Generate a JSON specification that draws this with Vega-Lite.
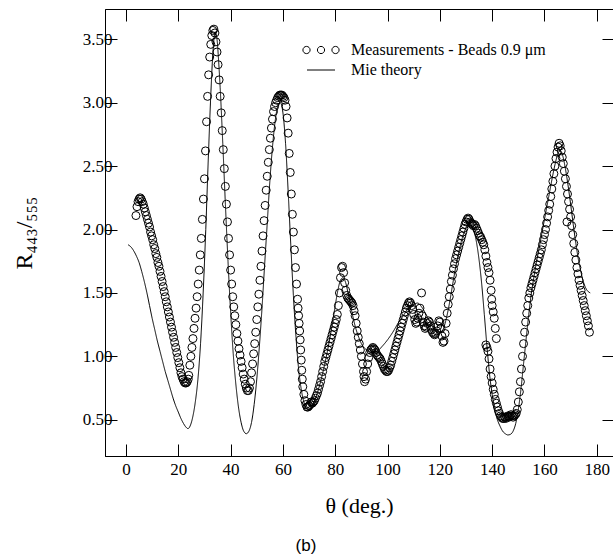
{
  "$schema": "https://vega.github.io/schema/vega-lite/v6.json",
  "autosize": {"type": "none"},
  "padding": {"left": 105, "top": 9, "right": 0, "bottom": 102},
  "width": 508,
  "height": 447,
  "background": "white",
  "title": {"text": "(b)", "orient": "bottom", "font": "Liberation Sans", "fontSize": 17, "fontWeight": "normal", "anchor": "middle", "dx": -53, "offset": 22, "color": "black"},
  "config": {
    "view": {"stroke": "black", "strokeWidth": 1},
    "font": "Liberation Serif",
    "axis": {"grid": false, "domainColor": "black", "tickColor": "black", "labelColor": "black", "titleColor": "black", "labelFont": "Liberation Serif", "titleFont": "Liberation Serif", "titleFontWeight": "normal", "labelFontSize": 17, "tickWidth": 1, "domainWidth": 1},
    "legend": {"orient": "none", "title": null, "symbolSize": 100, "labelFont": "Liberation Serif", "labelFontSize": 16, "labelOffset": 22, "labelLimit": 400, "padding": 0, "symbolStrokeWidth": 1, "symbolStrokeColor": "black", "symbolFillColor": "transparent", "symbolOpacity": 1, "labelColor": "black"}
  },
  "datasets": {
    "meas": [
      {"t":3.8,"r":2.11},{"t":4.2,"r":2.18},{"t":4.6,"r":2.22},{"t":5.0,"r":2.24},{"t":5.4,"r":2.25},{"t":5.8,"r":2.24},{"t":6.2,"r":2.22},{"t":6.6,"r":2.20},{"t":7.0,"r":2.17},{"t":7.4,"r":2.14},{"t":7.8,"r":2.11},{"t":8.2,"r":2.08},{"t":8.6,"r":2.05},{"t":9.0,"r":2.02},{"t":9.4,"r":1.98},{"t":9.8,"r":1.95},{"t":10.2,"r":1.92},{"t":10.6,"r":1.88},{"t":11.0,"r":1.85},{"t":11.4,"r":1.81},{"t":11.8,"r":1.78},{"t":12.2,"r":1.74},{"t":12.6,"r":1.71},{"t":13.0,"r":1.67},{"t":13.4,"r":1.63},{"t":13.8,"r":1.59},{"t":14.2,"r":1.55},{"t":14.6,"r":1.51},{"t":15.0,"r":1.47},{"t":15.4,"r":1.43},{"t":15.8,"r":1.39},{"t":16.2,"r":1.35},{"t":16.6,"r":1.31},{"t":17.0,"r":1.27},{"t":17.4,"r":1.23},{"t":17.8,"r":1.19},{"t":18.2,"r":1.15},{"t":18.6,"r":1.11},{"t":19.0,"r":1.07},{"t":19.4,"r":1.03},{"t":19.8,"r":0.99},{"t":20.2,"r":0.95},{"t":20.6,"r":0.91},{"t":21.0,"r":0.87},{"t":21.4,"r":0.84},{"t":21.8,"r":0.82},{"t":22.2,"r":0.80},{"t":22.6,"r":0.79},{"t":23.0,"r":0.79},{"t":23.4,"r":0.80},{"t":23.8,"r":0.82},
      {"t":24.0,"r":0.85},{"t":24.4,"r":0.93},{"t":24.8,"r":1.00},{"t":25.2,"r":1.07},{"t":25.6,"r":1.14},{"t":26.0,"r":1.22},{"t":26.4,"r":1.30},{"t":26.8,"r":1.38},{"t":27.2,"r":1.47},{"t":27.6,"r":1.57},{"t":28.0,"r":1.68},{"t":28.4,"r":1.80},{"t":28.8,"r":1.93},{"t":29.2,"r":2.08},{"t":29.6,"r":2.24},{"t":30.0,"r":2.40},{"t":30.4,"r":2.62},{"t":30.8,"r":2.85},{"t":31.2,"r":3.05},{"t":31.6,"r":3.22},{"t":32.0,"r":3.36},{"t":32.4,"r":3.46},{"t":32.8,"r":3.53},{"t":33.2,"r":3.57},{"t":33.6,"r":3.58},{"t":34.0,"r":3.55},
      {"t":34.4,"r":3.48},{"t":34.8,"r":3.40},{"t":35.2,"r":3.30},{"t":35.6,"r":3.18},{"t":36.0,"r":3.05},{"t":36.4,"r":2.92},{"t":36.8,"r":2.78},{"t":37.2,"r":2.63},{"t":37.6,"r":2.48},{"t":38.0,"r":2.34},{"t":38.4,"r":2.20},{"t":38.8,"r":2.06},{"t":39.2,"r":1.93},{"t":39.6,"r":1.80},{"t":40.0,"r":1.68},{"t":40.4,"r":1.57},{"t":40.8,"r":1.47},{"t":41.2,"r":1.39},{"t":41.6,"r":1.32},{"t":42.0,"r":1.25},{"t":42.4,"r":1.18},{"t":42.8,"r":1.12},{"t":43.2,"r":1.06},{"t":43.6,"r":1.01},{"t":44.0,"r":0.96},{"t":44.4,"r":0.91},{"t":44.8,"r":0.86},{"t":45.2,"r":0.82},{"t":45.6,"r":0.78},{"t":46.0,"r":0.75},{"t":46.4,"r":0.73},{"t":46.8,"r":0.73},{"t":47.2,"r":0.75},
      {"t":47.6,"r":0.80},{"t":48.0,"r":0.87},{"t":48.4,"r":0.94},{"t":48.8,"r":1.02},{"t":49.2,"r":1.10},{"t":49.6,"r":1.19},{"t":50.0,"r":1.29},{"t":50.4,"r":1.39},{"t":50.8,"r":1.49},{"t":51.2,"r":1.60},{"t":51.6,"r":1.71},{"t":52.0,"r":1.83},{"t":52.4,"r":1.95},{"t":52.8,"r":2.07},{"t":53.2,"r":2.19},{"t":53.6,"r":2.31},{"t":54.0,"r":2.42},{"t":54.4,"r":2.53},{"t":54.8,"r":2.63},{"t":55.2,"r":2.72},{"t":55.6,"r":2.80},{"t":56.0,"r":2.87},{"t":56.4,"r":2.93},{"t":56.8,"r":2.97},{"t":57.2,"r":3.00},{"t":57.6,"r":3.02},{"t":58.0,"r":3.04},{"t":58.4,"r":3.05},{"t":58.8,"r":3.06},{"t":59.2,"r":3.06},{"t":59.6,"r":3.06},{"t":60.0,"r":3.05},{"t":60.4,"r":3.04},
      {"t":60.8,"r":3.02},{"t":61.2,"r":2.97},{"t":61.6,"r":2.88},{"t":62.0,"r":2.76},{"t":62.4,"r":2.60},{"t":62.8,"r":2.45},{"t":63.2,"r":2.28},{"t":63.6,"r":2.12},{"t":64.0,"r":1.98},{"t":64.4,"r":1.84},{"t":64.8,"r":1.70},{"t":65.2,"r":1.57},{"t":65.6,"r":1.45},{"t":65.8,"r":1.38},{"t":66.0,"r":1.32},{"t":66.2,"r":1.26},{"t":66.4,"r":1.20},{"t":66.6,"r":1.13},{"t":66.8,"r":1.05},{"t":67.0,"r":0.97},{"t":67.2,"r":0.89},{"t":67.4,"r":0.82},{"t":67.6,"r":0.76},{"t":68.0,"r":0.70},{"t":68.4,"r":0.65},{"t":68.8,"r":0.62},{"t":69.2,"r":0.60},{"t":69.6,"r":0.60},{"t":70.0,"r":0.61},{"t":70.4,"r":0.62},{"t":70.8,"r":0.64},
      {"t":71.2,"r":0.63},{"t":71.6,"r":0.64},{"t":72.0,"r":0.65},{"t":72.4,"r":0.67},{"t":72.8,"r":0.69},{"t":73.2,"r":0.71},{"t":73.6,"r":0.74},{"t":74.0,"r":0.77},{"t":74.4,"r":0.80},{"t":74.8,"r":0.84},{"t":75.2,"r":0.88},{"t":75.6,"r":0.92},{"t":76.0,"r":0.96},{"t":76.4,"r":0.99},{"t":76.8,"r":1.02},{"t":77.2,"r":1.05},{"t":77.6,"r":1.08},{"t":78.0,"r":1.11},{"t":78.4,"r":1.14},{"t":78.8,"r":1.17},{"t":79.2,"r":1.20},{"t":79.6,"r":1.23},{"t":80.0,"r":1.26},{"t":80.4,"r":1.29},{"t":80.8,"r":1.33},{"t":81.2,"r":1.40},{"t":81.6,"r":1.50},{"t":82.0,"r":1.62},{"t":82.4,"r":1.70},{"t":82.8,"r":1.71},{"t":83.2,"r":1.66},
      {"t":83.6,"r":1.58},{"t":84.0,"r":1.52},{"t":84.4,"r":1.48},{"t":84.8,"r":1.46},{"t":85.2,"r":1.45},{"t":85.6,"r":1.44},{"t":86.0,"r":1.43},{"t":86.4,"r":1.42},{"t":86.8,"r":1.40},{"t":87.2,"r":1.36},{"t":87.6,"r":1.32},{"t":88.0,"r":1.26},{"t":88.4,"r":1.20},{"t":88.8,"r":1.15},{"t":89.2,"r":1.10},{"t":89.6,"r":1.05},{"t":90.0,"r":1.00},{"t":90.4,"r":0.94},{"t":90.8,"r":0.88},{"t":91.0,"r":0.84},{"t":91.2,"r":0.80},{"t":91.6,"r":0.82},{"t":92.0,"r":0.88},{"t":92.4,"r":0.94},{"t":92.8,"r":0.99},{"t":93.2,"r":1.03},{"t":93.6,"r":1.05},{"t":94.0,"r":1.06},{"t":94.4,"r":1.07},{"t":94.8,"r":1.06},{"t":95.2,"r":1.05},{"t":95.6,"r":1.03},{"t":96.0,"r":1.01},{"t":96.4,"r":1.00},{"t":96.8,"r":0.99},{"t":97.2,"r":0.98},{"t":97.6,"r":0.96},{"t":98.0,"r":0.94},{"t":98.4,"r":0.92},{"t":98.8,"r":0.90},{"t":99.2,"r":0.89},{"t":99.6,"r":0.88},{"t":100.0,"r":0.88},{"t":100.4,"r":0.89},{"t":100.8,"r":0.91},{"t":101.2,"r":0.93},{"t":101.6,"r":0.96},{"t":102.0,"r":0.99},{"t":102.4,"r":1.02},{"t":102.8,"r":1.05},{"t":103.2,"r":1.08},{"t":103.6,"r":1.11},{"t":104.0,"r":1.14},{"t":104.4,"r":1.17},{"t":104.8,"r":1.20},{"t":105.2,"r":1.23},{"t":105.6,"r":1.26},{"t":106.0,"r":1.29},{"t":106.4,"r":1.32},{"t":106.8,"r":1.35},{"t":107.2,"r":1.38},{"t":107.6,"r":1.40},{"t":108.0,"r":1.42},{"t":108.4,"r":1.43},{"t":108.8,"r":1.42},
      {"t":109.2,"r":1.40},{"t":109.6,"r":1.37},{"t":110.0,"r":1.33},{"t":110.4,"r":1.29},{"t":110.8,"r":1.26},{"t":111.2,"r":1.27},{"t":111.6,"r":1.30},{"t":112.0,"r":1.34},{"t":112.4,"r":1.38},{"t":113.0,"r":1.50},{"t":113.2,"r":1.32},{"t":113.6,"r":1.27},{"t":114.0,"r":1.24},{"t":114.4,"r":1.22},{"t":114.8,"r":1.23},{"t":115.2,"r":1.26},{"t":115.6,"r":1.28},{"t":116.0,"r":1.27},{"t":116.4,"r":1.24},{"t":116.8,"r":1.21},{"t":117.2,"r":1.19},{"t":117.6,"r":1.18},{"t":118.0,"r":1.17},{"t":118.4,"r":1.18},{"t":118.8,"r":1.20},{"t":119.2,"r":1.24},{"t":119.6,"r":1.28},{"t":120.0,"r":1.27},{"t":120.4,"r":1.22},{"t":120.8,"r":1.16},{"t":121.2,"r":1.11},{"t":121.6,"r":1.12},{"t":122.0,"r":1.18},{"t":122.4,"r":1.26},{"t":122.8,"r":1.34},{"t":123.2,"r":1.41},{"t":123.6,"r":1.47},{"t":124.0,"r":1.53},{"t":124.4,"r":1.59},{"t":124.8,"r":1.64},{"t":125.2,"r":1.69},{"t":125.6,"r":1.73},{"t":126.0,"r":1.77},{"t":126.4,"r":1.80},{"t":126.8,"r":1.83},{"t":127.2,"r":1.86},{"t":127.6,"r":1.89},{"t":128.0,"r":1.92},{"t":128.4,"r":1.95},{"t":128.8,"r":1.98},{"t":129.2,"r":2.01},{"t":129.6,"r":2.04},{"t":130.0,"r":2.06},{"t":130.4,"r":2.08},{"t":130.8,"r":2.09},{"t":131.2,"r":2.08},{"t":131.6,"r":2.06},{"t":132.0,"r":2.05},{"t":132.4,"r":2.04},{"t":132.8,"r":2.03},{"t":133.2,"r":2.04},{"t":133.6,"r":2.03},{"t":134.0,"r":2.01},{"t":134.4,"r":1.99},{"t":134.8,"r":1.97},{"t":135.2,"r":1.95},{"t":135.6,"r":1.94},{"t":136.0,"r":1.92},{"t":136.4,"r":1.90},{"t":136.8,"r":1.88},{"t":137.2,"r":1.84},{"t":137.6,"r":1.79},{"t":138.0,"r":1.74},{"t":138.4,"r":1.70},{"t":138.8,"r":1.66},{"t":139.2,"r":1.60},{"t":139.6,"r":1.52},{"t":139.8,"r":1.45},{"t":140.0,"r":1.40},{"t":140.4,"r":1.35},{"t":140.8,"r":1.30},{"t":141.2,"r":1.22},{"t":141.6,"r":1.14},
      {"t":137.6,"r":1.09},{"t":138.0,"r":1.07},{"t":138.4,"r":1.04},{"t":138.8,"r":0.98},{"t":139.2,"r":0.90},{"t":139.6,"r":0.84},{"t":140.0,"r":0.79},{"t":140.4,"r":0.74},{"t":140.8,"r":0.70},{"t":141.2,"r":0.66},{"t":141.6,"r":0.63},{"t":142.0,"r":0.60},{"t":142.4,"r":0.57},{"t":142.8,"r":0.55},{"t":143.2,"r":0.53},{"t":143.6,"r":0.52},{"t":144.0,"r":0.51},{"t":144.4,"r":0.51},{"t":144.8,"r":0.52},{"t":145.2,"r":0.51},{"t":145.6,"r":0.52},{"t":146.0,"r":0.53},{"t":146.4,"r":0.52},{"t":146.8,"r":0.53},{"t":147.2,"r":0.54},{"t":147.6,"r":0.53},{"t":148.0,"r":0.52},{"t":148.4,"r":0.53},{"t":148.8,"r":0.54},{"t":149.2,"r":0.55},{"t":149.6,"r":0.58},{"t":150.0,"r":0.64},{"t":150.4,"r":0.72},{"t":150.8,"r":0.80},{"t":151.2,"r":0.90},{"t":151.6,"r":1.00},{"t":152.0,"r":1.10},{"t":152.4,"r":1.19},{"t":152.8,"r":1.27},{"t":153.2,"r":1.34},{"t":153.6,"r":1.40},{"t":154.0,"r":1.46},{"t":154.4,"r":1.50},{"t":154.8,"r":1.54},{"t":155.2,"r":1.57},{"t":155.6,"r":1.60},{"t":156.0,"r":1.63},{"t":156.4,"r":1.66},{"t":156.8,"r":1.69},{"t":157.2,"r":1.72},{"t":157.6,"r":1.75},{"t":158.0,"r":1.78},{"t":158.4,"r":1.81},{"t":158.8,"r":1.84},{"t":159.2,"r":1.88},{"t":159.6,"r":1.92},{"t":160.0,"r":1.96},{"t":160.4,"r":2.00},{"t":160.8,"r":2.05},{"t":161.2,"r":2.10},{"t":161.6,"r":2.15},{"t":162.0,"r":2.20},{"t":162.4,"r":2.26},{"t":162.8,"r":2.32},{"t":163.2,"r":2.38},{"t":163.6,"r":2.44},{"t":164.0,"r":2.50},{"t":164.4,"r":2.56},{"t":164.8,"r":2.61},{"t":165.2,"r":2.65},{"t":165.6,"r":2.68},{"t":166.0,"r":2.66},{"t":166.4,"r":2.62},{"t":166.8,"r":2.57},{"t":167.2,"r":2.52},{"t":167.6,"r":2.46},{"t":168.0,"r":2.40},{"t":168.4,"r":2.34},{"t":168.6,"r":2.06},{"t":168.8,"r":2.28},{"t":169.2,"r":2.22},{"t":169.6,"r":2.16},{"t":170.0,"r":2.10},{"t":170.4,"r":2.03},{"t":170.8,"r":1.96},{"t":171.2,"r":1.89},{"t":171.6,"r":1.82},{"t":172.0,"r":1.76},{"t":172.4,"r":1.70},{"t":172.8,"r":1.65},{"t":173.2,"r":1.60},{"t":173.6,"r":1.56},{"t":174.0,"r":1.52},{"t":174.4,"r":1.48},{"t":174.8,"r":1.44},{"t":175.2,"r":1.40},{"t":175.6,"r":1.36},{"t":176.0,"r":1.32},{"t":176.4,"r":1.28},{"t":176.8,"r":1.24},{"t":177.2,"r":1.19}
    ],
    "mie": [
      {"t":0.8,"r":1.88},{"t":2,"r":1.86},{"t":3,"r":1.83},{"t":4,"r":1.79},{"t":5,"r":1.74},{"t":6,"r":1.67},{"t":7,"r":1.59},{"t":8,"r":1.50},{"t":9,"r":1.40},{"t":10,"r":1.30},{"t":11,"r":1.21},{"t":12,"r":1.12},{"t":13,"r":1.04},{"t":14,"r":0.96},{"t":15,"r":0.88},{"t":16,"r":0.81},{"t":17,"r":0.74},{"t":18,"r":0.67},{"t":19,"r":0.61},{"t":20,"r":0.56},{"t":21,"r":0.51},{"t":22,"r":0.47},{"t":23,"r":0.44},{"t":23.7,"r":0.43},{"t":24.5,"r":0.45},{"t":25.5,"r":0.52},{"t":26.5,"r":0.64},{"t":27.5,"r":0.82},{"t":28.5,"r":1.10},{"t":29.5,"r":1.50},{"t":30.5,"r":2.00},{"t":31.5,"r":2.58},{"t":32.5,"r":3.10},{"t":33.3,"r":3.42},{"t":34.1,"r":3.56},{"t":34.8,"r":3.50},{"t":35.5,"r":3.30},{"t":36,"r":3.12},{"t":37,"r":2.68},{"t":38,"r":2.20},{"t":39,"r":1.75},{"t":40,"r":1.35},{"t":41,"r":1.02},{"t":42,"r":0.78},{"t":43,"r":0.60},{"t":44,"r":0.48},{"t":45,"r":0.41},{"t":46,"r":0.39},{"t":47,"r":0.41},{"t":48,"r":0.48},{"t":49,"r":0.62},{"t":50,"r":0.82},{"t":51,"r":1.08},{"t":52,"r":1.38},{"t":53,"r":1.72},{"t":54,"r":2.05},{"t":55,"r":2.38},{"t":56,"r":2.65},{"t":57,"r":2.85},{"t":58,"r":2.97},{"t":59,"r":3.00},{"t":60,"r":2.92},{"t":61,"r":2.68},{"t":62,"r":2.30},{"t":63,"r":1.88},{"t":64,"r":1.48},{"t":65,"r":1.15},{"t":66,"r":0.90},{"t":67,"r":0.74},{"t":68,"r":0.64},{"t":69,"r":0.59},{"t":70,"r":0.58},{"t":71,"r":0.60},{"t":72,"r":0.64},{"t":73,"r":0.70},{"t":74,"r":0.77},{"t":75,"r":0.85},{"t":76,"r":0.94},{"t":77,"r":1.04},{"t":78,"r":1.15},{"t":79,"r":1.27},{"t":80,"r":1.40},{"t":81,"r":1.52},{"t":82,"r":1.60},{"t":83,"r":1.62},{"t":84,"r":1.58},{"t":85,"r":1.49},{"t":86,"r":1.39},{"t":87,"r":1.29},{"t":88,"r":1.21},{"t":89,"r":1.15},{"t":90,"r":1.10},{"t":92,"r":1.05},{"t":94,"r":1.03},{"t":96,"r":1.04},{"t":98,"r":1.08},{"t":100,"r":1.13},{"t":102,"r":1.19},{"t":104,"r":1.26},{"t":106,"r":1.32},{"t":108,"r":1.38},{"t":110,"r":1.41},{"t":111.5,"r":1.42},{"t":113,"r":1.39},{"t":115,"r":1.32},{"t":117,"r":1.24},{"t":119,"r":1.19},{"t":120.5,"r":1.19},{"t":122,"r":1.26},{"t":123.5,"r":1.40},{"t":125,"r":1.58},{"t":126.5,"r":1.75},{"t":128,"r":1.89},{"t":129.5,"r":1.99},{"t":131,"r":2.04},{"t":132.5,"r":2.02},{"t":134,"r":1.90},{"t":135,"r":1.76},{"t":136,"r":1.57},{"t":137,"r":1.33},{"t":138,"r":1.08},{"t":139,"r":0.86},{"t":140,"r":0.70},{"t":141,"r":0.58},{"t":142,"r":0.50},{"t":143,"r":0.45},{"t":144,"r":0.41},{"t":145,"r":0.39},{"t":146,"r":0.38},{"t":147,"r":0.385},{"t":148,"r":0.41},{"t":149,"r":0.47},{"t":150,"r":0.58},{"t":151,"r":0.74},{"t":152,"r":0.94},{"t":153,"r":1.14},{"t":154,"r":1.33},{"t":155,"r":1.50},{"t":156,"r":1.63},{"t":157,"r":1.75},{"t":158,"r":1.86},{"t":159,"r":1.97},{"t":160,"r":2.08},{"t":161,"r":2.19},{"t":162,"r":2.30},{"t":163,"r":2.41},{"t":164,"r":2.51},{"t":165,"r":2.59},{"t":166,"r":2.62},{"t":167,"r":2.58},{"t":168,"r":2.48},{"t":169,"r":2.35},{"t":170,"r":2.20},{"t":171,"r":2.04},{"t":172,"r":1.89},{"t":173,"r":1.76},{"t":174,"r":1.66},{"t":175,"r":1.58},{"t":176,"r":1.53},{"t":177.5,"r":1.50}
    ]
  },
  "layer": [
    {
      "data": {"name": "meas"},
      "mark": {"type": "point", "shape": "circle", "filled": false, "size": 64, "strokeWidth": 1, "opacity": 1},
      "encoding": {
        "x": {"field": "t", "type": "quantitative", "scale": {"domain": [-8.03, 186.2], "nice": false, "zero": false},
              "axis": {"orient": "bottom", "values": [0,20,40,60,80,100,120,140,160,180], "tickSize": -12, "labelPadding": 17, "title": "θ (deg.)", "titleFontSize": 22, "titlePadding": 18}},
        "y": {"field": "r", "type": "quantitative", "scale": {"domain": [0.214, 3.739], "nice": false, "zero": false},
              "axis": {"orient": "left", "values": [0.5,1,1.5,2,2.5,3,3.5], "format": ".2f", "tickSize": -12, "labelPadding": 5, "title": "R₄₄₃/₅₅₅", "titleFontSize": 24, "titlePadding": 46}},
        "stroke": {"datum": "Measurements - Beads 0.9 μm", "type": "nominal",
                   "scale": {"range": ["black"]},
                   "legend": {"legendX": 208, "legendY": 33, "symbolType": "M-3.62,0a0.72,0.72 0 1,0 1.44,0a0.72,0.72 0 1,0 -1.44,0M-0.72,0a0.72,0.72 0 1,0 1.44,0a0.72,0.72 0 1,0 -1.44,0M2.18,0a0.72,0.72 0 1,0 1.44,0a0.72,0.72 0 1,0 -1.44,0"}}
      }
    },
    {
      "data": {"name": "mie"},
      "mark": {"type": "line", "strokeWidth": 1, "interpolate": "monotone", "color": "black"},
      "encoding": {
        "x": {"field": "t", "type": "quantitative", "axis": {"orient": "top", "values": [0,20,40,60,80,100,120,140,160,180], "tickSize": -12, "labels": false, "title": null, "domain": false}},
        "y": {"field": "r", "type": "quantitative", "axis": {"orient": "right", "values": [0.5,1,1.5,2,2.5,3,3.5], "tickSize": -11, "labels": false, "title": null, "domain": false}},
        "strokeDash": {"datum": "Mie theory", "type": "nominal",
                       "scale": {"range": [[1, 0]]},
                       "legend": {"legendX": 208, "legendY": 53, "symbolType": "M-2.8,0L2.8,0"}}
      }
    }
  ],
  "resolve": {"axis": {"x": "independent", "y": "independent"}}
}
